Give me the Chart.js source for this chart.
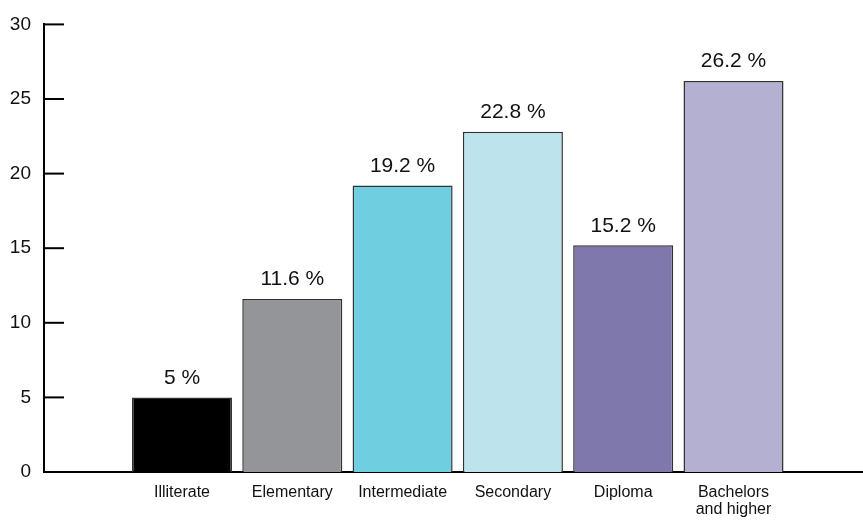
<!DOCTYPE html>
<html>
<head>
<meta charset="utf-8">
<script src="https://cdn.jsdelivr.net/npm/chart.js@4/dist/chart.umd.min.js"></script>
<style>
  html, body { margin: 0; padding: 0; background: #fff; }
  #wrap { width: 863px; height: 520px; position: relative; }
</style>
</head>
<body>
<div id="wrap"><canvas id="eduChart"></canvas></div>
<script>
// Education level shares (%)
const categories = ['Illiterate', 'Elementary', 'Intermediate', 'Secondary', 'Diploma', ['Bachelors', 'and higher']];
const shares = [5, 11.6, 19.2, 22.8, 15.2, 26.2];
const barColors = ['#000000', '#939598', '#6fcfe0', '#bde3ec', '#7e78ad', '#b3b0d1'];
const yTicks = [0, 5, 10, 15, 20, 25, 30];

const FONT = '"Liberation Sans", Arial, Helvetica, sans-serif';

// Short tick marks drawn inward from the y axis
const innerTicks = {
    id: 'innerTicks',
    afterDraw(chart) {
        const { ctx, chartArea, scales } = chart;
        ctx.save();
        ctx.strokeStyle = '#000';
        ctx.lineWidth = 2;
        yTicks.forEach(v => {
            const y = scales.y.getPixelForValue(v);
            ctx.beginPath();
            ctx.moveTo(chartArea.left, y);
            ctx.lineTo(chartArea.left + 20, y);
            ctx.stroke();
        });
        ctx.restore();
    }
};

// Percentage labels above each bar
const valueLabels = {
    id: 'valueLabels',
    afterDatasetsDraw(chart) {
        const { ctx } = chart;
        const meta = chart.getDatasetMeta(0);
        ctx.save();
        ctx.font = '21px ' + FONT;
        ctx.fillStyle = '#111';
        ctx.textAlign = 'center';
        ctx.textBaseline = 'bottom';
        meta.data.forEach((bar, i) => {
            ctx.fillText(shares[i] + ' %', bar.x, bar.y - 9);
        });
        ctx.restore();
    }
};

const ctx = document.getElementById('eduChart').getContext('2d');
new Chart(ctx, {
    type: 'bar',
    data: {
        datasets: [{
            data: shares.map((v, i) => ({ x: i, y: v })),
            backgroundColor: barColors,
            borderColor: '#333333',
            borderWidth: 1.5,
            categoryPercentage: 1,
            barPercentage: 0.907
        }]
    },
    options: {
        responsive: true,
        maintainAspectRatio: false,
        animation: false,
        layout: { padding: { top: 23, right: 0, left: 0, bottom: 0 } },
        plugins: {
            legend: { display: false },
            tooltip: { enabled: false }
        },
        scales: {
            x: {
                type: 'linear',
                offset: false,
                min: -1.251,
                max: 6.174,
                grid: { display: false, drawTicks: false },
                border: { display: true, color: '#000', width: 2 },
                afterFit(scale) {
                    scale.height = 48;
                    scale.paddingLeft = 0;
                    scale.paddingRight = 0;
                },
                ticks: {
                    stepSize: 1,
                    autoSkip: false,
                    maxRotation: 0,
                    padding: 12,
                    color: '#111',
                    font: { family: FONT, size: 16, lineHeight: 1.05 },
                    callback: (v) => (Number.isInteger(v) && v >= 0 && v < categories.length) ? categories[v] : ''
                }
            },
            y: {
                min: 0,
                max: 30,
                grid: { display: false, drawTicks: false },
                border: { display: true, color: '#000', width: 2 },
                afterFit(scale) { scale.width = 44; },
                ticks: {
                    stepSize: 5,
                    padding: 13,
                    color: '#111',
                    font: { family: FONT, size: 19 }
                }
            }
        }
    },
    plugins: [innerTicks, valueLabels]
});
</script>
</body>
</html>
